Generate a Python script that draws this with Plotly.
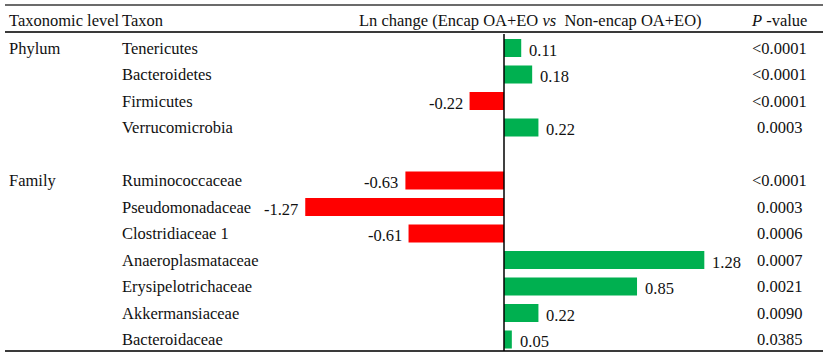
import plotly.graph_objects as go

# ---- data ----
levels = ["Phylum", "Family"]
taxa_phylum = ["Tenericutes", "Bacteroidetes", "Firmicutes", "Verrucomicrobia"]
taxa_family = ["Ruminococcaceae", "Pseudomonadaceae", "Clostridiaceae 1",
               "Anaeroplasmataceae", "Erysipelotrichaceae", "Akkermansiaceae",
               "Bacteroidaceae"]
ln_phylum = [0.11, 0.18, -0.22, 0.22]
ln_family = [-0.63, -1.27, -0.61, 1.28, 0.85, 0.22, 0.05]
p_phylum = ["<0.0001", "<0.0001", "<0.0001", "0.0003"]
p_family = ["<0.0001", "0.0003", "0.0006", "0.0007", "0.0021", "0.0090", "0.0385"]

# ---- layout helpers ----
W, H = 829, 358
FONT = "Liberation Serif, Times New Roman, serif"
FS = 16.5
ROW0, ROWH = 48, 26.5      # pixel center of first row, row pitch
ZERO_X, SCALE = 504, 156.5  # pixel of zero, pixels per unit

groups = [(levels[0], taxa_phylum, ln_phylum, p_phylum),
          (levels[1], taxa_family, ln_family, p_family)]
rows, taxa, vals, pvals, level_rows = [], [], [], [], []
r = 0
for lvl, t, v, p in groups:
    level_rows.append((lvl, r))
    for i in range(len(t)):
        rows.append(r); taxa.append(t[i]); vals.append(v[i]); pvals.append(p[i])
        r += 1
    r += 1  # blank row between groups

yr_top = (0 - ROW0) / ROWH
yr_bot = (H - ROW0) / ROWH
xr = [-ZERO_X / SCALE, (W - ZERO_X) / SCALE]

def py(pix):
    return 1 - pix / H

colors = ["#00B050" if v > 0 else "#FF0000" for v in vals]

fig = go.Figure(go.Bar(
    x=vals, y=rows, orientation="h", width=0.68,
    marker=dict(color=colors, line=dict(width=0)),
    hoverinfo="skip"))

ann = []
txt = dict(family=FONT, size=FS, color="#111111")
# value labels
for v, rr in zip(vals, rows):
    ann.append(dict(x=v, y=rr + 0.08, xref="x", yref="y", text=f"{v:.2f}",
                    showarrow=False, font=txt,
                    xanchor="left" if v > 0 else "right",
                    xshift=6 if v > 0 else -5))
# taxa + p-values
for t, p, rr in zip(taxa, pvals, rows):
    ann.append(dict(x=120 / W, y=rr, xref="paper", yref="y", text=t,
                    showarrow=False, font=txt, xanchor="left"))
    ann.append(dict(x=779 / W, y=rr, xref="paper", yref="y",
                    text=p.replace("<", "&lt;"),
                    showarrow=False, font=txt, xanchor="center"))
for lvl, rr in level_rows:
    ann.append(dict(x=7 / W, y=rr, xref="paper", yref="y", text=lvl,
                    showarrow=False, font=txt, xanchor="left"))
# headers
hy = py(20)
ann += [
    dict(x=7 / W, y=hy, xref="paper", yref="paper", text="Taxonomic level",
         showarrow=False, font=txt, xanchor="left", yanchor="middle"),
    dict(x=120 / W, y=hy, xref="paper", yref="paper", text="Taxon",
         showarrow=False, font=txt, xanchor="left", yanchor="middle"),
    dict(x=530 / W, y=hy, xref="paper", yref="paper",
         text="Ln change (Encap OA+EO <i>vs</i>  Non-encap OA+EO)",
         showarrow=False, font=txt, xanchor="center", yanchor="middle"),
    dict(x=779 / W, y=hy, xref="paper", yref="paper", text="<i>P</i> -value",
         showarrow=False, font=txt, xanchor="center", yanchor="middle"),
]

line_c = "#3a3a3a"
shapes = [
    dict(type="line", xref="paper", yref="paper", x0=5 / W, x1=823 / W,
         y0=py(5), y1=py(5), line=dict(color=line_c, width=1.5)),
    dict(type="line", xref="paper", yref="paper", x0=5 / W, x1=823 / W,
         y0=py(32), y1=py(32), line=dict(color=line_c, width=2)),
    dict(type="line", xref="paper", yref="paper", x0=5 / W, x1=823 / W,
         y0=py(351), y1=py(351), line=dict(color=line_c, width=2)),
    dict(type="line", xref="x", yref="paper", x0=0, x1=0,
         y0=py(34), y1=py(351), line=dict(color="#000000", width=1.5)),
]

fig.update_layout(
    width=W, height=H, margin=dict(l=0, r=0, t=0, b=0),
    paper_bgcolor="white", plot_bgcolor="white",
    showlegend=False, annotations=ann, shapes=shapes,
    xaxis=dict(range=xr, visible=False, fixedrange=True),
    yaxis=dict(range=[yr_bot, yr_top], visible=False, fixedrange=True),
)
fig.write_html("out.html", config={"displayModeBar": False},
               post_script="document.body.style.margin='0';document.body.style.overflow='hidden';")
